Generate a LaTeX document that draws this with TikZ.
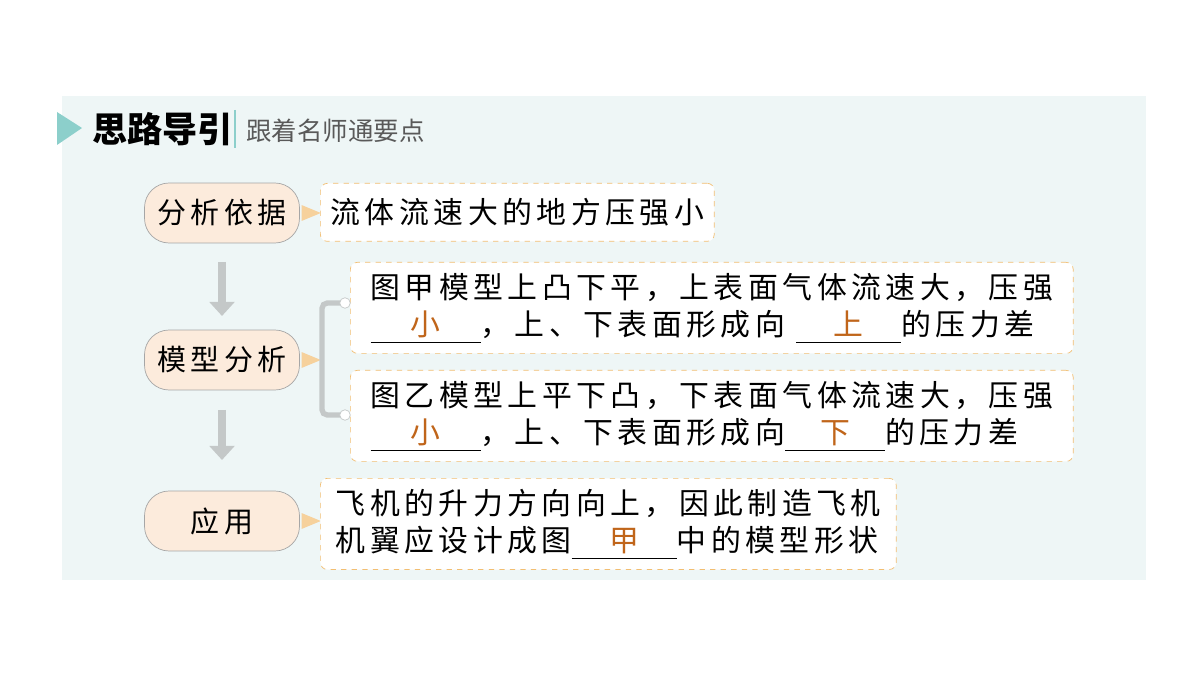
\documentclass[tikz,border=0pt]{standalone}
\usepackage{fontspec}
\setmainfont{Noto Sans CJK SC}
\newfontfamily\spaced[LetterSpace=15]{Noto Sans CJK SC}
\usetikzlibrary{shapes.geometric,arrows.meta}
\definecolor{panel}{HTML}{EEF6F6}
\definecolor{teal}{HTML}{8CCFCB}
\definecolor{peach}{HTML}{FCEBDC}
\definecolor{dashc}{HTML}{F2BE72}
\definecolor{ans}{HTML}{C0651A}
\definecolor{arrowgray}{HTML}{C4C8C8}
\newcommand{\blank}[2]{\makebox[#1]{\color{ans}#2}\llap{\rule[-4pt]{#1}{0.7pt}}}
\begin{document}
\begin{tikzpicture}[x=0.02cm,y=-0.02cm,
  pill/.style={draw=black!35, fill=peach, rounded corners=14pt, minimum width=3.1cm, minimum height=1.2cm, font=\fontsize{16.5}{18}\selectfont\spaced},
  box/.style={draw=dashc, dashed, fill=white, rounded corners=4pt, align=left, anchor=north west, inner xsep=1pt, inner ysep=6pt, font=\fontsize{17}{21.5}\selectfont\spaced},
  tip/.style={fill=dashc!70, isosceles triangle, inner sep=0pt, minimum width=9pt, minimum height=8pt},
  down/.style={arrowgray, line width=5pt, -{Triangle[length=8pt,width=14pt]}}]
  \useasboundingbox (0,0) rectangle (1200,675);
  \fill[panel] (62,96) rectangle (1146,580);
  % header
  \fill[teal] (57,112) -- (82,128) -- (57,145) -- cycle;
  \node[anchor=west, font=\fontsize{20}{22}\selectfont\bfseries] (title) at (86,129) {思路导引};
  \draw[teal, line width=1.2pt] (235,110) -- (235,148);
  \node[anchor=west, text=black!65, font=\fontsize{14.5}{17}\selectfont] (sub) at (240,131) {跟着名师通要点};
  % left column
  \node[pill] (basis) at (222,213) {分析依据};
  \node[pill] (model) at (222,360) {模型分析};
  \node[pill] (use) at (222,521) {应用};
  \node[tip] at (307,213) {};
  \node[tip] at (307,360) {};
  \node[tip] at (307,521) {};
  \draw[down] (222,262) -- (222,316);
  \draw[down] (222,410) -- (222,460);
  % right column
  \node[box, minimum width=7.88cm, minimum height=1.16cm] (b1) at (320,183) {流体流速大的地方压强小};
  \node[box, minimum width=14.46cm] (b2) at (350,262)
    {图甲模型上凸下平，上表面气体流速大，压强\\\blank{2.2cm}{小}，上、下表面形成向 \blank{2.1cm}{上}的压力差};
  \node[box, minimum width=14.46cm] (b3) at (350,370)
    {图乙模型上平下凸，下表面气体流速大，压强\\\blank{2.2cm}{小}，上、下表面形成向\blank{2cm}{下}的压力差};
  \node[box, minimum width=11.52cm] (b4) at (320,478)
    {飞机的升力方向向上，因此制造飞机\\机翼应设计成图\blank{2.1cm}{甲}中的模型形状};
  % bracket
  \draw[arrowgray, line width=3pt, rounded corners=3pt] (344,303) -- (322,303) -- (322,415) -- (344,415);
  \filldraw[draw=arrowgray, fill=white] (345,303) circle (3pt) (345,415) circle (3pt);
\end{tikzpicture}
\end{document}
